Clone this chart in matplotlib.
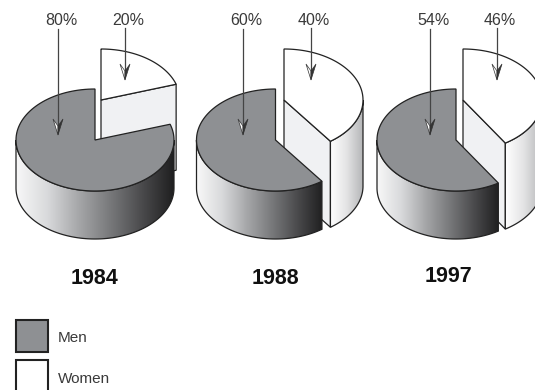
#!/usr/bin/env python3

import matplotlib
matplotlib.use('Agg')
import matplotlib.pyplot as plt
import numpy as np
from matplotlib.colors import LinearSegmentedColormap
from matplotlib.patches import Polygon, Rectangle

years = ['1984', '1988', '1997']
men_labels = ['80%', '60%', '54%']
women_labels = ['20%', '40%', '46%']
# the artwork does not draw the 1997 slice to scale, this is what it shows
men_drawn = [80, 60, 59]
legend_names = ['Men', 'Women']

pie_x = [95, 275.5, 456]
pie_y = 140
women_x = [101, 284, 463]
women_y = 100
rx, ry = 79, 51
men_depth, women_depth = 48, 86

men_arrow_x = [58, 243, 430]
women_arrow_x = [125, 311, 497]
year_x = [95, 275.5, 448]
year_y = [279, 279, 277]

GRAY = '#8e9093'
LINE = '#222222'
TEXT = '#3a3a3a'
FACE = '#f0f1f3'
FONT = 'Liberation Sans'

men_side = LinearSegmentedColormap.from_list(
    'men', ['#f8f8f8', '#d8d9db', '#a5a6a8', '#77787a', '#4a4a4c', '#1f1f20'])
women_side = LinearSegmentedColormap.from_list('women', ['#ffffff', '#e4e4e5', '#b5b6b8'])


def arc(cx, cy, a0, a1, n=120):
    t = np.radians(np.linspace(a0, a1, n))
    return np.column_stack([cx + rx * np.cos(t), cy - ry * np.sin(t)])


def side_shape(cx, cy, a0, a1, depth):
    top = arc(cx, cy, a0, a1)
    bottom = top[::-1] + [0, depth]
    return np.vstack([top, bottom])


def gradient(ax, pts, cmap, zorder):
    x0, x1 = pts[:, 0].min(), pts[:, 0].max()
    y0, y1 = pts[:, 1].min(), pts[:, 1].max()
    grad = np.linspace(0, 1, 256).reshape(1, -1)
    im = ax.imshow(grad, cmap=cmap, extent=(x0, x1, y1, y0), aspect='auto', zorder=zorder)
    outline = Polygon(pts, closed=True, fc='none', ec=LINE, lw=0.9, zorder=zorder + 0.1)
    ax.add_patch(outline)
    im.set_clip_path(outline)


def wedge_points(cx, cy, a0, a1):
    return np.vstack([[cx, cy], arc(cx, cy, a0, a1)])


def draw_pie(ax, i):
    cx, wx = pie_x[i], women_x[i]
    end = 90 + 3.6 * men_drawn[i]

    # women slice, sits higher and behind
    corner = arc(wx, women_y, end, end, 1)[0]
    face = [[wx, women_y], corner, corner + [0, women_depth], [wx, women_y + women_depth]]
    ax.add_patch(Polygon(face, closed=True, fc=FACE, ec=LINE, lw=0.9, zorder=2))
    if end < 360:
        gradient(ax, side_shape(wx, women_y, end, 360, women_depth), women_side, 2)
    ax.add_patch(Polygon(wedge_points(wx, women_y, end, 450), closed=True,
                         fc='white', ec=LINE, lw=0.9, zorder=3))

    # men slice
    gradient(ax, side_shape(cx, pie_y, 180, min(end, 360), men_depth), men_side, 4)
    ax.add_patch(Polygon(wedge_points(cx, pie_y, 90, end), closed=True,
                         fc=GRAY, ec=LINE, lw=0.9, zorder=5))


def draw_arrow(ax, x, y0, y1, label):
    ax.plot([x, x], [y0, y1 - 6], color='#444444', lw=0.9, zorder=6)
    ax.add_patch(Polygon([[x, y1], [x - 5, y1 - 16], [x, y1 - 9]], closed=True,
                         fc='white', ec='#333333', lw=0.5, zorder=7))
    ax.add_patch(Polygon([[x, y1], [x + 5, y1 - 16], [x, y1 - 9]], closed=True,
                         fc='#333333', ec='#333333', lw=0.5, zorder=7))
    ax.text(x + 3, 20.5, label, ha='center', va='center', fontsize=11.5, color=TEXT, family=FONT)


if __name__ == '__main__':
    fig = plt.figure(figsize=(5.35, 3.9), dpi=100)
    ax = fig.add_axes([0, 0, 1, 1])

    for i in range(len(years)):
        draw_pie(ax, i)
        draw_arrow(ax, men_arrow_x[i], 29, 135, men_labels[i])
        draw_arrow(ax, women_arrow_x[i], 28, 80, women_labels[i])
        ax.text(year_x[i], year_y[i], years[i], ha='center', va='center', fontsize=15.5,
                fontweight='bold', color='#111111', family=FONT)

    ax.add_patch(Rectangle((15.5, 319.5), 32, 32, fc=GRAY, ec=LINE, lw=1.5))
    ax.add_patch(Rectangle((15.5, 359.5), 32, 32, fc='white', ec=LINE, lw=1.5))
    ax.text(58, 338, legend_names[0], va='center', fontsize=11, color=TEXT, family=FONT)
    ax.text(58, 379, legend_names[1], va='center', fontsize=11, color=TEXT, family=FONT)

    ax.set_xlim(0, 535)
    ax.set_ylim(390, 0)
    ax.axis('off')
    fig.savefig('out.png', dpi=100)
